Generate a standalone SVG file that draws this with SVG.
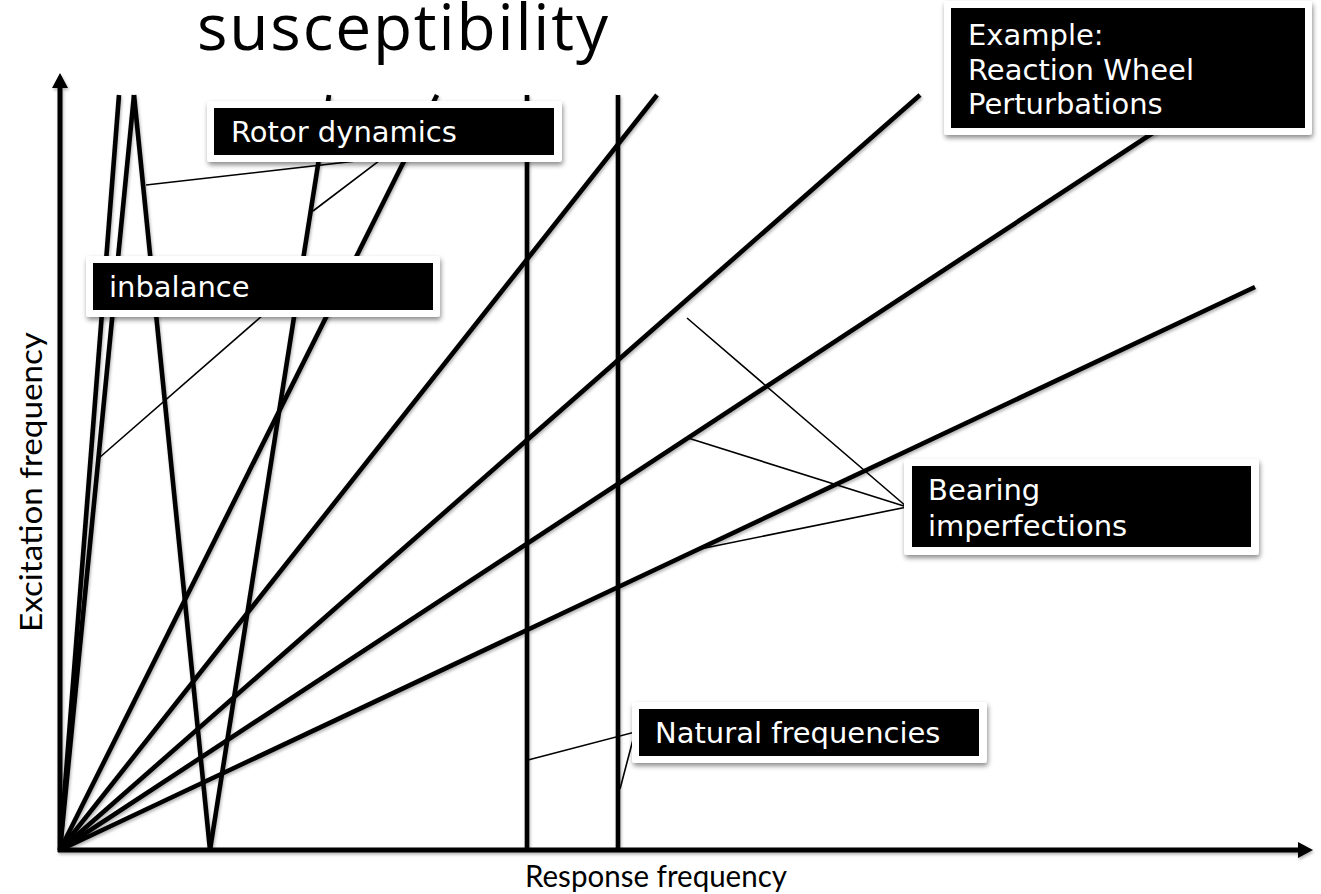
<svg xmlns="http://www.w3.org/2000/svg" width="1321" height="894" viewBox="0 0 1321 894">
  <style>
    .axis { stroke: #000; stroke-width: 5; fill: none; }
    .fan { stroke: #000; stroke-width: 4.6; fill: none; stroke-linecap: butt; }
    .call { stroke: #000; stroke-width: 1.6; fill: none; }
    .frame { fill: #fff; filter: url(#shadow); }
    .plate { fill: #000; }
    .lbl { font-family: "DejaVu Sans", Verdana, sans-serif; font-size: 29px; fill: #fff; }
    .axlbl { font-family: Lato, "Liberation Sans", sans-serif; font-size: 30px; fill: #000; }
    .title { font-family: "Open Sans", "DejaVu Sans", sans-serif; font-weight: 400; font-size: 64px; fill: #000; }
  </style>
  <defs>
    <filter id="shadow" x="-10%" y="-20%" width="120%" height="150%">
      <feDropShadow dx="1" dy="3" stdDeviation="2.5" flood-color="#000" flood-opacity="0.45"/>
    </filter>
    <filter id="lshadow" x="-5%" y="-5%" width="110%" height="110%">
      <feDropShadow dx="1" dy="2" stdDeviation="1.5" flood-color="#000" flood-opacity="0.3"/>
    </filter>
    <marker id="head" markerUnits="userSpaceOnUse" markerWidth="15" markerHeight="16" refX="0" refY="8" orient="auto">
      <path d="M0,0 L15,8 L0,16 z" fill="#000"/>
    </marker>
  </defs>
  <rect width="1321" height="894" fill="#fff"/>

  <text id="title" class="title" x="197" y="50" textLength="411" lengthAdjust="spacing">susceptibility</text>

  <g id="plot" filter="url(#lshadow)">
    <line class="axis" x1="60" y1="852" x2="60" y2="88" marker-end="url(#head)"/>
    <line class="axis" x1="58" y1="850" x2="1298" y2="850" marker-end="url(#head)"/>
    <line class="fan" x1="60" y1="850" x2="119" y2="95"/>
    <line class="fan" x1="60" y1="850" x2="134" y2="95"/>
    <line class="fan" x1="134" y1="95" x2="210" y2="850"/>
    <line class="fan" x1="210" y1="850" x2="329" y2="95"/>
    <line class="fan" x1="60" y1="850" x2="437" y2="95"/>
    <line class="fan" x1="60" y1="850" x2="657" y2="95"/>
    <line class="fan" x1="60" y1="850" x2="920" y2="95"/>
    <line class="fan" x1="60" y1="850" x2="1165" y2="125"/>
    <line class="fan" x1="60" y1="850" x2="1255" y2="287"/>
    <line class="fan" x1="527" y1="95" x2="527" y2="850"/>
    <line class="fan" x1="618" y1="95" x2="618" y2="850"/>
  </g>

  <text id="ylabel" class="axlbl" transform="translate(42,482) rotate(-90)" text-anchor="middle" textLength="300" lengthAdjust="spacingAndGlyphs">Excitation frequency</text>
  <text id="xlabel" class="axlbl" x="656" y="887" text-anchor="middle" textLength="262" lengthAdjust="spacingAndGlyphs">Response frequency</text>

  <g id="connectors">
    <polyline class="call" points="146,185 383,158 313,211"/>
    <line class="call" x1="263" y1="315" x2="99" y2="458"/>
    <polyline class="call" points="687,318 907,507 688,438"/>
    <line class="call" x1="907" y1="507" x2="700" y2="549"/>
    <polyline class="call" points="528,760 635,732 620,789"/>
  </g>

  <g id="node-rotor">
    <rect class="frame" x="207" y="101" width="355" height="61" rx="3"/>
    <rect class="plate" x="214" y="108" width="340" height="47"/>
    <text class="lbl" x="231" y="142">Rotor dynamics</text>
  </g>

  <g id="node-inbalance">
    <rect class="frame" x="86" y="256" width="354" height="61" rx="3"/>
    <rect class="plate" x="93" y="263" width="340" height="47"/>
    <text class="lbl" x="109" y="297">inbalance</text>
  </g>

  <g id="node-example">
    <rect class="frame" x="944" y="1" width="368" height="134" rx="3"/>
    <rect class="plate" x="951" y="8" width="354" height="120"/>
    <text class="lbl" x="968" y="45">Example:</text>
    <text class="lbl" x="968" y="80">Reaction Wheel</text>
    <text class="lbl" x="968" y="114">Perturbations</text>
  </g>

  <g id="node-bearing">
    <rect class="frame" x="904" y="459" width="355" height="96" rx="3"/>
    <rect class="plate" x="912" y="466" width="339" height="81"/>
    <text class="lbl" x="928" y="500">Bearing</text>
    <text class="lbl" x="928" y="536">imperfections</text>
  </g>

  <g id="node-natural">
    <rect class="frame" x="632" y="702" width="355" height="61" rx="3"/>
    <rect class="plate" x="639" y="709" width="340" height="47"/>
    <text class="lbl" x="655" y="743">Natural frequencies</text>
  </g>
</svg>
